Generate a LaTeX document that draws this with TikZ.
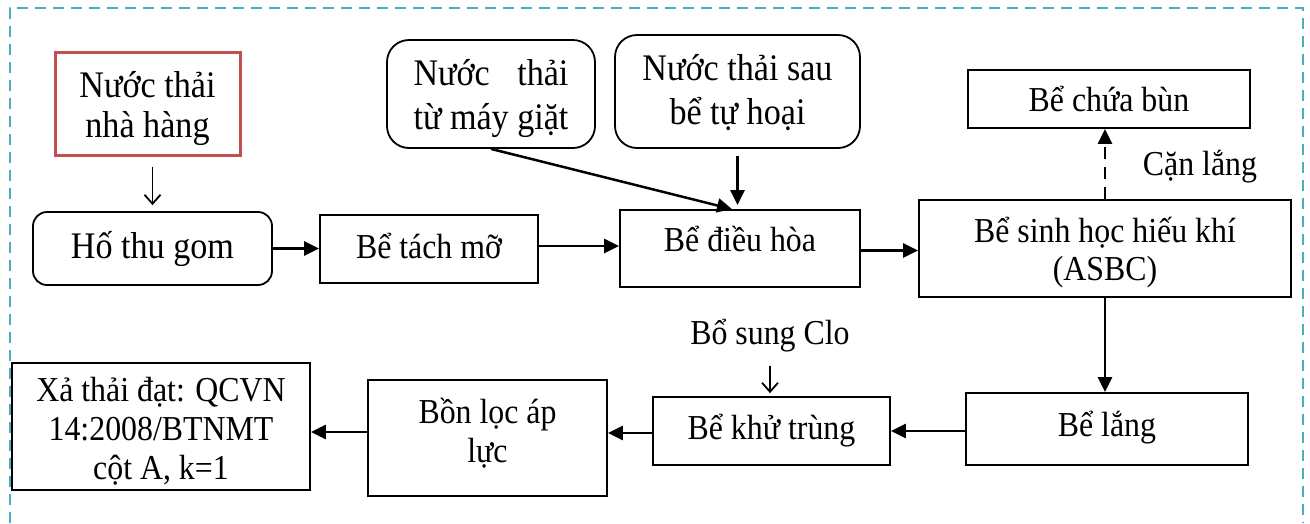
\documentclass[tikz,border=0pt]{standalone}
\usepackage{fontspec}
\setmainfont{Liberation Serif}[FakeStretch=0.91]
\usetikzlibrary{arrows.meta,calc}
\definecolor{bordercol}{RGB}{75,172,198}
\definecolor{redbox}{RGB}{192,80,77}
% move text vertically inside a node without changing how the node centres it
\newcommand\mvd[2]{\raisebox{#1}[\height][\depth]{#2}}
\newcommand\mlines[2]{\parbox{#1}{\centering #2}}
\tikzset{
  every node/.style={font=\fontsize{35}{38.5}\selectfont},
  box/.style={draw, line width=1.8pt, inner sep=0pt, align=center},
  rbox/.style={box, rounded corners=14pt},
  arr/.style={line width=2.5pt, -{Triangle[length=15pt,width=14pt]}},
  openarr/.style={line width=1.8pt, -{Straight Barb[length=9pt,width=16pt]}},
  big/.style={font=\fontsize{37.5}{40}\selectfont},
  bigwide/.style={font=\fontsize{37.5}{44}\selectfont}
}
\begin{document}
\begin{tikzpicture}[x=1pt,y=-1pt]
\useasboundingbox (0,0) rectangle (1310,523);
\fill[white] (0,0) rectangle (1310,523);
\draw[bordercol, line width=2.5pt, dash pattern=on 11pt off 7pt] (10,523) -- (10,8) -- (1303,8) -- (1303,523);

\node[box, big, draw=redbox, line width=3pt, minimum width=185, minimum height=103] (nhahang) at (147.5,103.5) {\mvd{-5pt}{\mlines{170pt}{Nước thải\\nhà hàng}}};
\node[rbox, big, minimum width=239, minimum height=73] (hothu) at (152.5,248.5) {Hố thu gom};
\node[box, minimum width=218, minimum height=68] (tachmo) at (429,249) {\mvd{3pt}{Bể tách mỡ}};
\node[box, minimum width=240, minimum height=77] (dieuhoa) at (740,248.5) {\mvd{10pt}{Bể điều hòa}};
\node[box, bigwide, rounded corners=22pt, minimum width=208, minimum height=108] (maygiat) at (491,94)
  {\mvd{-5pt}{\mlines{200pt}{\setbox0=\hbox{từ máy giặt}\makebox[\wd0][s]{Nước thải}\\từ máy giặt}}};
\node[box, bigwide, rounded corners=22pt, minimum width=245, minimum height=113] (tuhoai) at (737.5,91.5) {\mvd{-1.5pt}{\mlines{235pt}{Nước thải sau\\bể tự hoại}}};
\node[box, minimum width=282, minimum height=58] (chuabun) at (1109,99) {Bể chứa bùn};
\node[box, minimum width=372, minimum height=97] (sinhhoc) at (1105,248.5) {\mvd{-4pt}{\mlines{360pt}{Bể sinh học hiếu khí\\(ASBC)}}};
\node[box, minimum width=282, minimum height=72] (belang) at (1107,429) {\mvd{1pt}{Bể lắng}};
\node[box, minimum width=237, minimum height=68] (khutrung) at (771.5,431) {Bể khử trùng};
\node[box, minimum width=239, minimum height=116] (bonloc) at (487.5,438) {\mvd{5pt}{\mlines{230pt}{Bồn lọc áp\\lực}}};
\node[box, minimum width=298, minimum height=127] (xathai) at (161,426.5) {\mvd{-5pt}{\mlines{290pt}{\baselineskip=39pt Xả thải đạt: QCVN\\14:2008/BTNMT\\cột A, k=1}}};

\node (canlang) at (1200,167) {Cặn lắng};
\node (clo) at (770,336) {Bổ sung Clo};

\draw[openarr, shorten <=10pt, shorten >=6pt] (nhahang.south -| hothu.north) -- (hothu.north);
\draw[arr] (hothu.east) -- (hothu.east -| tachmo.west);
\draw[arr] ($(tachmo.east)+(0,-3)$) -- ($(tachmo.east -| dieuhoa.west)+(0,-3)$);
\draw[arr] (maygiat.south) -- ($(dieuhoa.north)+(-8,0)$);
\draw[arr, shorten <=7pt, shorten >=4pt] (tuhoai.south) -- (tuhoai.south |- dieuhoa.north);
\draw[arr] ($(dieuhoa.east)+(0,2)$) -- ($(dieuhoa.east -| sinhhoc.west)+(0,2)$);
\draw[arr, dash pattern=on 12pt off 8pt] (sinhhoc.north) -- (sinhhoc.north |- chuabun.south);
\draw[arr] (sinhhoc.south) -- (sinhhoc.south |- belang.north);
\draw[arr] (belang.west |- khutrung.east) -- (khutrung.east);
\draw[arr] ($(khutrung.west)+(0,2)$) -- ($(khutrung.west -| bonloc.east)+(0,2)$);
\draw[arr] ($(khutrung.west -| bonloc.west)+(0,1)$) -- ($(khutrung.west -| xathai.east)+(0,1)$);
\draw[openarr, shorten <=4pt, shorten >=3pt] (clo.south |- 0,362) -- (clo.south |- khutrung.north);
\end{tikzpicture}
\end{document}
